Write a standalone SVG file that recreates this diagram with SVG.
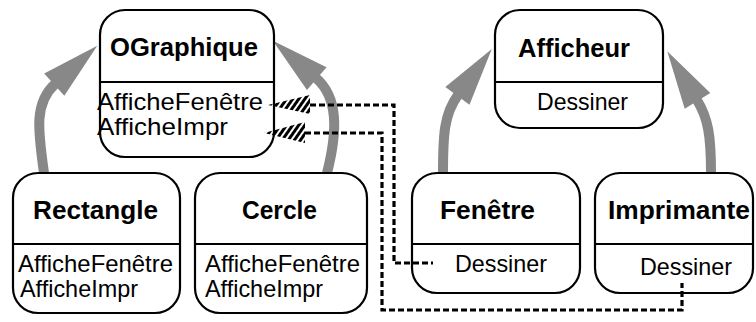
<svg xmlns="http://www.w3.org/2000/svg" width="756" height="322" viewBox="0 0 756 322">
<style>
.box{fill:#fff;stroke:#000;stroke-width:2.2}
.div{stroke:#000;stroke-width:2.2}
.t{font-family:"Liberation Sans",Arial,sans-serif;font-weight:bold;font-size:26px;fill:#000}
.m{font-family:"Liberation Sans",Arial,sans-serif;font-size:24px;fill:#000}
.inh{fill:none;stroke:#888;stroke-width:10}
.dash{fill:none;stroke:#000;stroke-width:3.2;stroke-dasharray:6 3}
</style>
<defs>
<marker id="head" markerUnits="userSpaceOnUse" markerWidth="60" markerHeight="34" viewBox="0 -17 60 34" refX="1" refY="0" orient="auto" overflow="visible">
<path d="M0,-15 L58,0 L0,15 z" fill="#888"/>
</marker>
<pattern id="hatch" patternUnits="userSpaceOnUse" width="5" height="5" patternTransform="rotate(35)">
<rect x="0" y="0" width="3" height="5" fill="#000"/>
</pattern>
</defs>
<g id="connectors">
<path class="inh" d="M44,173 C38,130 34,103 55,84" marker-end="url(#head)"/>
<path class="inh" d="M327,173 C338,130 338,97 316,78" marker-end="url(#head)"/>
<path class="inh" d="M443,173 C443,135 444,114 458,95" marker-end="url(#head)"/>
<path class="inh" d="M711,173 C711,135 708,118 697,100" marker-end="url(#head)"/>
</g>
<g id="OGraphique">
<rect class="box" x="100" y="10" width="174" height="147" rx="25"/>
<line class="div" x1="100" y1="82" x2="274" y2="82"/>
<text class="t" x="110" y="56" textLength="148" lengthAdjust="spacingAndGlyphs">OGraphique</text>
<text class="m" x="97" y="110" textLength="166" lengthAdjust="spacingAndGlyphs">AfficheFenêtre</text>
<text class="m" x="97" y="135" textLength="131" lengthAdjust="spacingAndGlyphs">AfficheImpr</text>
</g>
<g id="Rectangle">
<rect class="box" x="13" y="173" width="167" height="140" rx="25"/>
<line class="div" x1="13" y1="244" x2="180" y2="244"/>
<text class="t" x="33" y="219" textLength="125" lengthAdjust="spacingAndGlyphs">Rectangle</text>
<text class="m" x="18" y="272" textLength="155" lengthAdjust="spacingAndGlyphs">AfficheFenêtre</text>
<text class="m" x="20" y="297" textLength="118" lengthAdjust="spacingAndGlyphs">AfficheImpr</text>
</g>
<g id="Cercle">
<rect class="box" x="195" y="173" width="172" height="140" rx="25"/>
<line class="div" x1="195" y1="244" x2="367" y2="244"/>
<text class="t" x="242" y="219" textLength="75" lengthAdjust="spacingAndGlyphs">Cercle</text>
<text class="m" x="205" y="272" textLength="155" lengthAdjust="spacingAndGlyphs">AfficheFenêtre</text>
<text class="m" x="205" y="297" textLength="118" lengthAdjust="spacingAndGlyphs">AfficheImpr</text>
</g>
<g id="Afficheur">
<rect class="box" x="495" y="10" width="168" height="118" rx="25"/>
<line class="div" x1="495" y1="82" x2="663" y2="82"/>
<text class="t" x="518" y="57" textLength="112" lengthAdjust="spacingAndGlyphs">Afficheur</text>
<text class="m" x="537" y="110" textLength="91" lengthAdjust="spacingAndGlyphs">Dessiner</text>
</g>
<g id="Fenetre">
<rect class="box" x="412" y="173" width="168" height="120" rx="25"/>
<line class="div" x1="412" y1="244" x2="580" y2="244"/>
<text class="t" x="440" y="219" textLength="95" lengthAdjust="spacingAndGlyphs">Fenêtre</text>
<text class="m" x="455" y="272" textLength="92" lengthAdjust="spacingAndGlyphs">Dessiner</text>
</g>
<g id="Imprimante">
<rect class="box" x="595" y="173" width="158" height="120" rx="25"/>
<line class="div" x1="595" y1="244" x2="753" y2="244"/>
<text class="t" x="608" y="219" textLength="142" lengthAdjust="spacingAndGlyphs">Imprimante</text>
<text class="m" x="640" y="275" textLength="92" lengthAdjust="spacingAndGlyphs">Dessiner</text>
</g>
<g id="links">
<polygon points="268,105 310,95 310,114" fill="url(#hatch)"/>
<path class="dash" d="M310,105 H394 V263 H433"/>
<polygon points="264,133 305,122 305,143" fill="url(#hatch)"/>
<path class="dash" d="M305,133 H382 V310 H682 V283"/>
</g>
</svg>
